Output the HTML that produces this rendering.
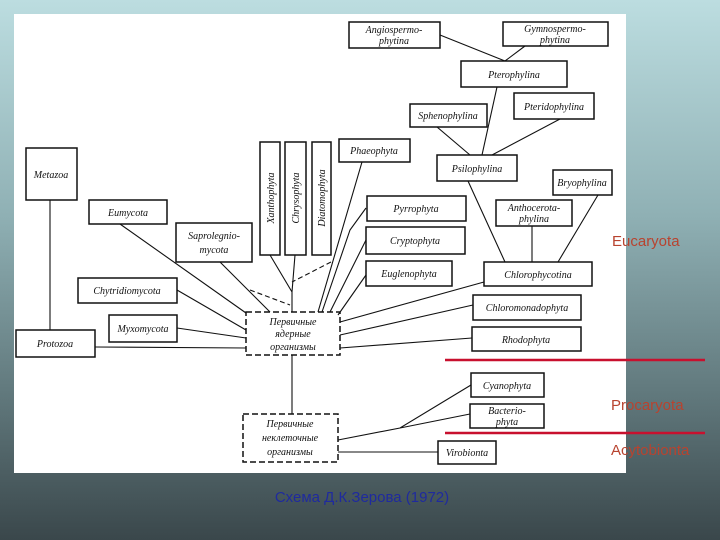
<!DOCTYPE html>
<html><head><meta charset="utf-8"><style>
html,body{margin:0;padding:0}
body{width:720px;height:540px;overflow:hidden;background:linear-gradient(#bcdde0 0%,#8fb0b4 40%,#5e7579 75%,#3a474b 100%);position:relative;font-family:"Liberation Sans",sans-serif}
svg{position:absolute;left:0;top:0}
</style></head><body>
<svg width="720" height="540" viewBox="0 0 720 540">
<rect x="14" y="14" width="612" height="459" fill="#fff"/>
<g stroke="#111" stroke-width="1.5" fill="#fff">
<rect x="349" y="22" width="91" height="26"/>
<rect x="503" y="22" width="105" height="24"/>
<rect x="461" y="61" width="106" height="26"/>
<rect x="514" y="93" width="80" height="26"/>
<rect x="410" y="104" width="77" height="23"/>
<rect x="339" y="139" width="71" height="23"/>
<rect x="437" y="155" width="80" height="26"/>
<rect x="553" y="170" width="59" height="25"/>
<rect x="367" y="196" width="99" height="25"/>
<rect x="496" y="200" width="76" height="26"/>
<rect x="366" y="227" width="99" height="27"/>
<rect x="366" y="261" width="86" height="25"/>
<rect x="484" y="262" width="108" height="24"/>
<rect x="473" y="295" width="108" height="25"/>
<rect x="472" y="327" width="109" height="24"/>
<rect x="26" y="148" width="51" height="52"/>
<rect x="89" y="200" width="78" height="24"/>
<rect x="176" y="223" width="76" height="39"/>
<rect x="260" y="142" width="20" height="113"/>
<rect x="285" y="142" width="21" height="113"/>
<rect x="312" y="142" width="19" height="113"/>
<rect x="78" y="278" width="99" height="25"/>
<rect x="109" y="315" width="68" height="27"/>
<rect x="16" y="330" width="79" height="27"/>
<rect x="246" y="312" width="94" height="43" stroke-dasharray="6,3"/>
<rect x="243" y="414" width="95" height="48" stroke-dasharray="6,3"/>
<rect x="471" y="373" width="73" height="24"/>
<rect x="470" y="404" width="74" height="24"/>
<rect x="438" y="441" width="58" height="23"/>
</g>
<g stroke="#111" stroke-width="1.1" fill="none">
<path d="M50 200V330M120 224L246 313M220 262L270 312M177 290L246 330M177 328L246 338M95 347L246 348"/>
<path d="M250 290L290 305M331 262L292 282" stroke-dasharray="5,3"/>
<path d="M270 255L292 292M295 255L292 292M292 292V312M362 162L318 312M366 208L350 230L322 312M366 240L330 312M366 275L338 315M484 282L340 322M473 305L340 335M472 338L340 348"/>
<path d="M468 181L505 262M532 226V262M598 195L558 262M497 87L482 155M437 127L470 155M560 119L492 155M440 35L505 61M525 46L505 61"/>
<path d="M292 355V414M338 440L400 428L471 385M400 428L470 414M338 452H438"/>
</g>
<g font-family="Liberation Serif,serif" font-style="italic" font-size="10" fill="#111" text-anchor="middle">
<text x="394" y="33">Angiospermo-</text><text x="394" y="44">phytina</text>
<text x="555" y="32">Gymnospermo-</text><text x="555" y="43">phytina</text>
<text x="514" y="78">Pterophylina</text>
<text x="554" y="110">Pteridophylina</text>
<text x="448" y="119">Sphenophylina</text>
<text x="374" y="154">Phaeophyta</text>
<text x="477" y="172">Psilophylina</text>
<text x="582" y="186">Bryophylina</text>
<text x="416" y="212">Pyrrophyta</text>
<text x="534" y="211">Anthocerota-</text><text x="534" y="222">phylina</text>
<text x="415" y="244">Cryptophyta</text>
<text x="409" y="277">Euglenophyta</text>
<text x="538" y="278">Chlorophycotina</text>
<text x="527" y="311">Chloromonadophyta</text>
<text x="526" y="343">Rhodophyta</text>
<text x="51" y="178">Metazoa</text>
<text x="128" y="216">Eumycota</text>
<text x="214" y="239">Saprolegnio-</text><text x="214" y="253">mycota</text>
<text x="127" y="294">Chytridiomycota</text>
<text x="143" y="332">Myxomycota</text>
<text x="55" y="347">Protozoa</text>
<text x="293" y="325">Первичные</text><text x="293" y="337">ядерные</text><text x="293" y="350">организмы</text>
<text x="290" y="427">Первичные</text><text x="290" y="441">неклеточные</text><text x="290" y="455">организмы</text>
<text x="507" y="389">Cyanophyta</text>
<text x="507" y="414">Bacterio-</text><text x="507" y="425">phyta</text>
<text x="467" y="456">Virobionta</text>
<text transform="translate(274,198) rotate(-90)">Xanthophyta</text>
<text transform="translate(299,198) rotate(-90)">Chrysophyta</text>
<text transform="translate(325,198) rotate(-90)">Diatomophyta</text>
</g>
<g stroke="#c8102e" stroke-width="2.5"><path d="M445 360H705M445 433H705"/></g>
<g font-size="15" fill="#b8432f">
<text x="612" y="246">Eucaryota</text>
<text x="611" y="410">Procaryota</text>
<text x="611" y="455">Acytobionta</text>
</g>
<text x="362" y="502" text-anchor="middle" font-size="15" fill="#1f2a9e">Схема Д.К.Зерова (1972)</text>
</svg>
</body></html>
